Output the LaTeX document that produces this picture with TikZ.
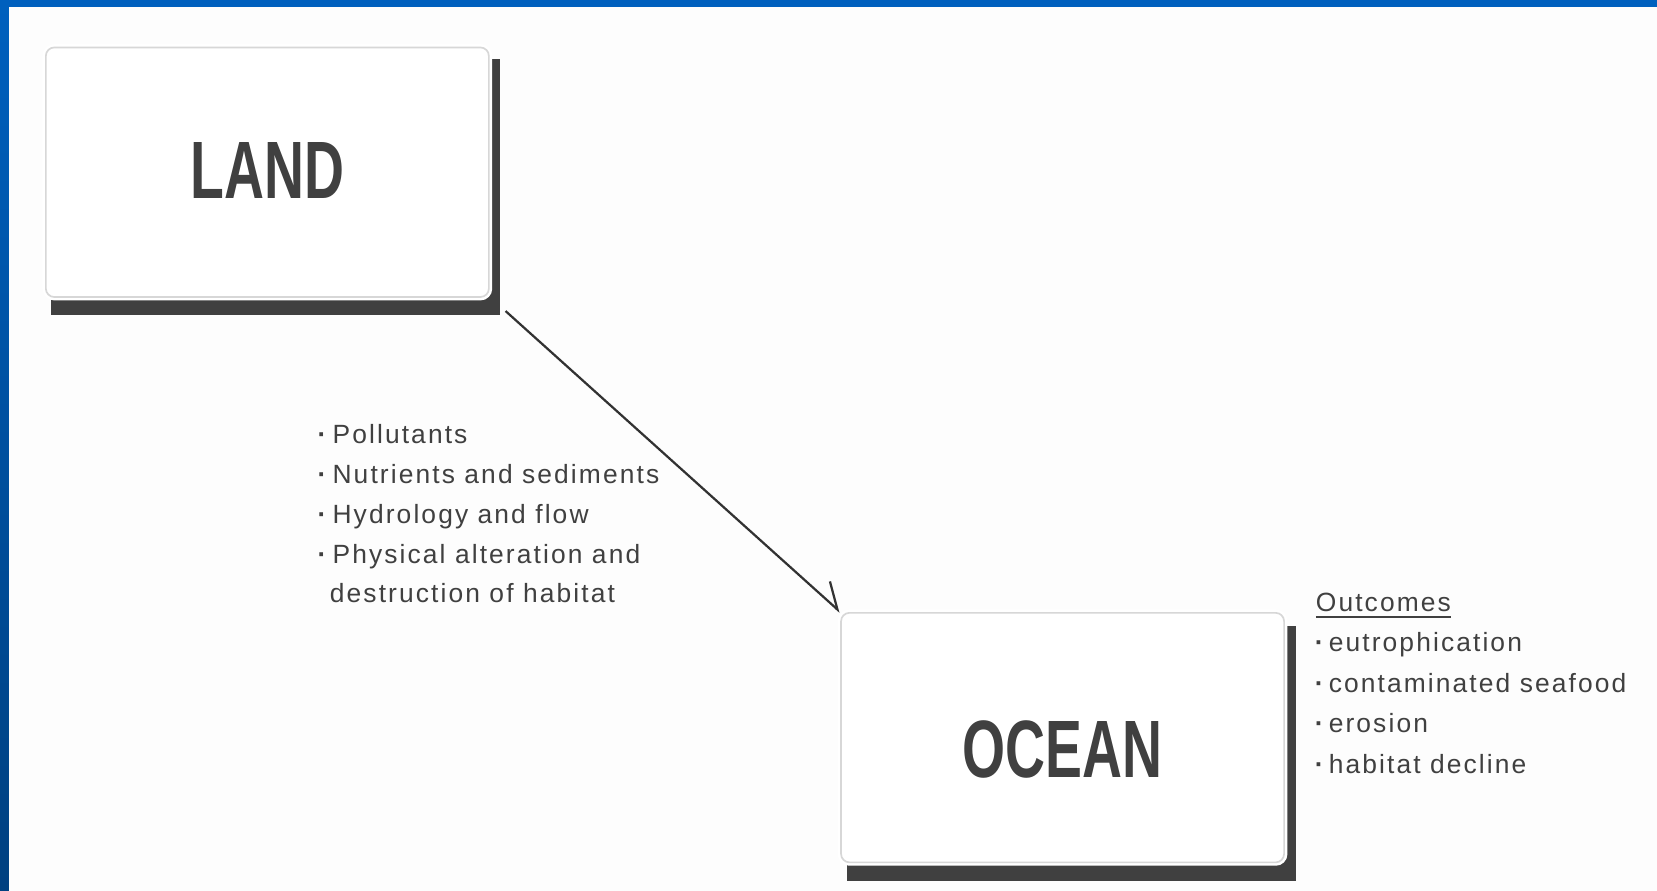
\documentclass[tikz,border=0pt]{standalone}
\usepackage{fontspec}
\setmainfont{Liberation Sans}
\newfontfamily\boxfont{Liberation Sans}[FakeStretch=0.68]
\newfontfamily\listfont{Liberation Sans}[LetterSpace=8]
\usetikzlibrary{arrows.meta}
\usetikzlibrary{backgrounds}
\usetikzlibrary{calc}
\usetikzlibrary{positioning}

\definecolor{frameblue}{RGB}{0,96,190}
\definecolor{framedark}{RGB}{0,64,128}
\definecolor{pagegray}{RGB}{253,253,253}
\definecolor{boxline}{RGB}{215,215,215}
\definecolor{shadowgray}{RGB}{64,64,64}
\definecolor{textgray}{RGB}{64,64,64}
\definecolor{arrowgray}{RGB}{50,50,50}

\newcommand{\bulletdot}[1]{\makebox[#1][c]{\bfseries·}}

\tikzset{
  areabox/.style={rectangle, rounded corners=0.08cm, draw=boxline, line width=0.45pt,
    fill=white, preaction={draw=white, line width=1.8pt},
    minimum width=4.19cm, minimum height=2.36cm, inner sep=0pt,
    font=\boxfont\bfseries\fontsize{21.9}{24}\selectfont, text=textgray},
  listitem/.style={anchor=base west, inner sep=0pt,
    font=\listfont\fontsize{7.1}{9}\selectfont, text=textgray}
}

\begin{document}
\begin{tikzpicture}[x=0.01cm, y=-0.01cm]
\useasboundingbox (0,0) rectangle (1568,843);

\node[areabox, text height=0.55cm, text depth=0.06cm] (land) at (253,163) {LAND};
\node[areabox, text height=0.75cm, text depth=0cm] (ocean) at (1005.5,698) {OCEAN};

% pathways from land to ocean
\foreach \t [count=\i] in {Pollutants, Nutrients and sediments, Hydrology and flow, Physical alteration and}
  \node[listitem] (p\i) at (294,{419.5+37.8*(\i-1)}) {\bulletdot{0.2cm}\t};
\node[listitem] (p5) at (311.5,570.6) {destruction of habitat};

% outcomes
\node[listitem] (out) at (1244.5,578.5) {\underline{Outcomes}};
\foreach \t [count=\i] in {eutrophication, contaminated seafood, erosion, habitat decline}
  \node[listitem] (o\i) at (1238.7,{616.5+38.4*(\i-1)}) {\bulletdot{0.18cm}\t};

\coordinate (landcorner) at ($(land.south east)+(15,12.5)$);
\draw[arrowgray, line width=0.6pt, -{Straight Barb[harpoon, length=0.23cm, width=0.3cm]}] (landcorner) -- (ocean.north west);

\begin{scope}[on background layer]
  \fill[pagegray] (0,0) rectangle (1568,843);
  \fill[frameblue] (0,0) rectangle (1568,6.5);
  \shade[top color=frameblue, bottom color=framedark] (0,0) rectangle (8.5,843);
  \fill[shadowgray] ($(land.south west)+(6,16)$) rectangle ($(land.north east)+(10,12)$);
  \fill[shadowgray] ($(ocean.south west)+(6,16.5)$) rectangle ($(ocean.north east)+(10.5,13.5)$);
\end{scope}
\end{tikzpicture}
\end{document}
